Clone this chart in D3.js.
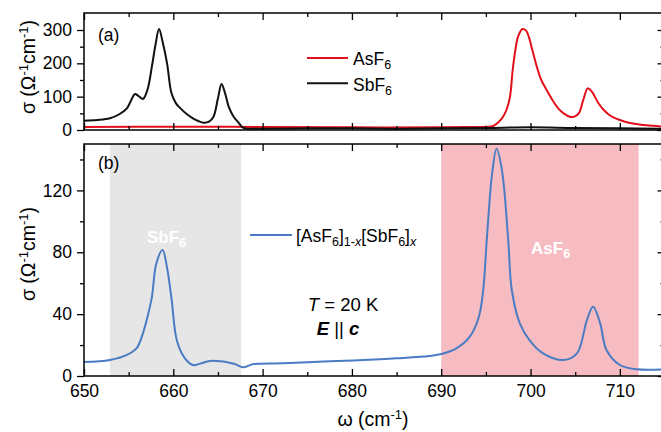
<!DOCTYPE html>
<html>
<head>
<meta charset="utf-8">
<script src="https://cdn.jsdelivr.net/npm/d3@7/dist/d3.min.js"></script>
<style>
  html, body { margin: 0; padding: 0; background: #fff; }
  svg { display: block; font-family: "Liberation Sans", Arial, Helvetica, sans-serif; }
</style>
</head>
<body>
<svg id="chart" width="661" height="432"></svg>
<script>
// ---- data ----------------------------------------------------------------
// wavenumbers (cm^-1) and conductivity (Ohm^-1 cm^-1)
const sbfWave = [650, 651.5, 652.9, 654, 654.8, 655.3, 655.7, 656.1, 656.6, 657.1, 657.6, 658.0, 658.4, 658.8, 659.3, 659.8, 660.3, 660.8, 661.5, 662.2, 662.8, 663.4, 664.0, 664.5, 665.0, 665.4, 665.8, 666.2, 666.7, 667.3, 667.8, 668.3, 670, 675, 680, 685, 690, 695, 700, 705, 710, 715];
const sbfSigma = [28, 30, 35, 48, 65, 90, 108, 102, 93, 120, 190, 255, 303, 265, 200, 110, 80, 65, 48, 35, 27, 22, 25, 40, 95, 138, 110, 70, 42, 22, 7, 4, 4, 5, 5, 4, 5, 6, 8, 6, 5, 4];

const asfWave = [650, 660, 670, 680, 690, 693, 695, 695.8, 696.8, 697.3, 697.7, 698.0, 698.3, 698.6, 699.1, 699.5, 699.8, 700.2, 700.7, 701.2, 701.8, 702.5, 703.1, 703.7, 704.4, 704.9, 705.4, 705.9, 706.4, 706.7, 707.0, 707.5, 708.2, 709, 710, 711, 711.9, 713, 715];
const asfSigma = [9, 10, 9, 8, 8, 9, 10, 12, 35, 60, 100, 180, 240, 280, 303, 298, 280, 240, 190, 150, 120, 88, 65, 50, 40, 40, 50, 90, 125, 120, 110, 85, 60, 42, 30, 22, 18, 14, 10];

const mixWave = [650, 652.9, 654.8, 655.9, 656.6, 657.1, 657.6, 658.1, 658.8, 659.3, 659.8, 660.4, 661.3, 662.2, 663.0, 664.1, 665.3, 666.3, 667.0, 667.8, 669.0, 672.3, 677.5, 681.3, 685, 688.7, 690, 691.7, 693.2, 694.2, 694.7, 695.1, 695.7, 696.2, 696.8, 697.5, 697.9, 698.8, 699.9, 701.4, 703.7, 705.2, 706.3, 707.0, 707.8, 708.5, 710, 711.9, 715];
const mixSigma = [9, 10.3, 13.6, 18, 27.6, 38, 51, 72.8, 81.4, 70, 50, 23, 11.4, 7.1, 8, 9.7, 9.5, 8.6, 7.5, 5.6, 7.7, 8.2, 9.5, 10.3, 11.4, 12.9, 14.2, 17.9, 25.4, 38, 55.6, 88, 131, 147, 133, 88, 55.6, 34, 23, 14.6, 10.3, 14.6, 36, 44.8, 34, 16.8, 7.1, 4.3, 4.3];

// shaded bands (cm^-1)
const sbfBand = [652.9, 667.6];
const asfBand = [690, 712.1];

// ticks
const xMajor = [650, 660, 670, 680, 690, 700, 710];
const xMinor = [655, 665, 675, 685, 695, 705, 715];
const yAMajor = [0, 100, 200, 300];
const yAMinor = [50, 150, 250];
const yBMajor = [0, 40, 80, 120];
const yBMinor = [20, 60, 100, 140];

// ---- layout --------------------------------------------------------------
const svg = d3.select("#chart");
const left = 84, right = 664.5;
const topA = 13, botA = 130;
const topB = 144, botB = 376;
const RED = "#e3101c", BLACK = "#111", BLUE = "#4a7cc4";

const x = d3.scaleLinear().domain([650, 715]).range([left, right]);
const yA = d3.scaleLinear().domain([0, 351]).range([botA, topA]);
const yB = d3.scaleLinear().domain([0, 150]).range([botB, topB]);

// shaded bands in panel (b)
svg.append("rect").attr("x", x(sbfBand[0])).attr("y", topB)
  .attr("width", x(sbfBand[1]) - x(sbfBand[0])).attr("height", botB - topB)
  .attr("fill", "#e6e6e6");
svg.append("rect").attr("x", x(asfBand[0])).attr("y", topB)
  .attr("width", x(asfBand[1]) - x(asfBand[0])).attr("height", botB - topB)
  .attr("fill", "#f6bcc2");

// clip paths for the curves
const defs = svg.append("defs");
defs.append("clipPath").attr("id", "clipA").append("rect")
  .attr("x", left).attr("y", topA).attr("width", right - left).attr("height", botA - topA);
defs.append("clipPath").attr("id", "clipB").append("rect")
  .attr("x", left).attr("y", topB).attr("width", right - left).attr("height", botB - topB);

function drawCurve(wave, sigma, ys, color, clip) {
  const pts = wave.map((w, i) => [w, sigma[i]]);
  const line = d3.line().x(d => x(d[0])).y(d => ys(d[1])).curve(d3.curveCatmullRom.alpha(0.5));
  svg.append("path").datum(pts).attr("d", line)
    .attr("fill", "none").attr("stroke", color).attr("stroke-width", 2)
    .attr("stroke-linejoin", "round").attr("clip-path", `url(#${clip})`);
}

drawCurve(asfWave, asfSigma, yA, RED, "clipA");
drawCurve(sbfWave, sbfSigma, yA, BLACK, "clipA");
drawCurve(mixWave, mixSigma, yB, BLUE, "clipB");

// ---- axes ----------------------------------------------------------------
const MAJ = 7, MIN = 4;
function axisGroup(axis, tx, ty) {
  const g = svg.append("g").attr("transform", `translate(${tx},${ty})`).call(axis);
  g.select(".domain").remove();
  g.selectAll("line").attr("stroke", "#000").attr("stroke-width", 1.3);
  g.selectAll("text").attr("fill", "#000").style("font-size", "17.5px").style("font-family", "Liberation Sans, Arial, sans-serif");
  return g;
}

function panelAxes(ys, top, bot, yMaj, yMin) {
  // x ticks inward, bottom and top
  axisGroup(d3.axisTop(x).tickValues(xMajor).tickSize(MAJ).tickFormat(""), 0, bot);
  axisGroup(d3.axisTop(x).tickValues(xMinor).tickSize(MIN).tickFormat(""), 0, bot);
  axisGroup(d3.axisBottom(x).tickValues(xMajor).tickSize(MAJ).tickFormat(""), 0, top);
  axisGroup(d3.axisBottom(x).tickValues(xMinor).tickSize(MIN).tickFormat(""), 0, top);
  // y ticks outward on the left, inward on the right
  axisGroup(d3.axisLeft(ys).tickValues(yMaj).tickSize(MAJ).tickPadding(5).tickFormat(d3.format("d")), left, 0);
  axisGroup(d3.axisLeft(ys).tickValues(yMin).tickSize(MIN).tickFormat(""), left, 0);
  axisGroup(d3.axisLeft(ys).tickValues(yMaj).tickSize(MAJ).tickFormat(""), right, 0);
  axisGroup(d3.axisLeft(ys).tickValues(yMin).tickSize(MIN).tickFormat(""), right, 0);
  // frame
  svg.append("rect").attr("x", left).attr("y", top).attr("width", right - left).attr("height", bot - top)
    .attr("fill", "none").attr("stroke", "#000").attr("stroke-width", 1.5);
}

panelAxes(yA, topA, botA, yAMajor, yAMinor);
panelAxes(yB, topB, botB, yBMajor, yBMinor);

// x tick labels below panel (b)
const xl = axisGroup(d3.axisBottom(x).tickValues(xMajor).tickSize(0).tickPadding(9).tickFormat(d3.format("d")), 0, botB);
xl.selectAll("line").remove();

// ---- text ----------------------------------------------------------------
function sigmaTitle(cy) {
  const t = svg.append("text")
    .attr("transform", `translate(35,${cy}) rotate(-90)`)
    .attr("text-anchor", "middle").style("font-size", "19.5px").attr("fill", "#000");
  t.append("tspan").text("σ (Ω");
  t.append("tspan").attr("baseline-shift", "super").style("font-size", "13px").text("-1");
  t.append("tspan").text("cm");
  t.append("tspan").attr("baseline-shift", "super").style("font-size", "13px").text("-1");
  t.append("tspan").text(")");
}
sigmaTitle(67);
sigmaTitle(254);

const xt = svg.append("text").attr("x", 373).attr("y", 426).attr("text-anchor", "middle")
  .style("font-size", "19.5px").attr("fill", "#000");
xt.append("tspan").text("ω (cm");
xt.append("tspan").attr("baseline-shift", "super").style("font-size", "13px").text("-1");
xt.append("tspan").text(")");

svg.append("text").attr("x", 98).attr("y", 41).style("font-size", "17.5px").text("(a)");
svg.append("text").attr("x", 98).attr("y", 169).style("font-size", "17.5px").text("(b)");

// rich-text helper for chemical formulas with subscripts
function chem(sel, parts) {
  parts.forEach(p => {
    const ts = sel.append("tspan").text(p.t);
    if (p.sub) ts.attr("baseline-shift", "-30%").style("font-size", "12.5px");
    if (p.it) ts.style("font-style", "italic");
  });
}

// legend, panel (a)
svg.append("line").attr("x1", 307).attr("x2", 348).attr("y1", yA(216)).attr("y2", yA(216))
  .attr("stroke", RED).attr("stroke-width", 2);
chem(svg.append("text").attr("x", 353).attr("y", 65).style("font-size", "17.5px"),
  [{t: "AsF"}, {t: "6", sub: true}]);
svg.append("line").attr("x1", 307).attr("x2", 348).attr("y1", yA(140)).attr("y2", yA(140))
  .attr("stroke", BLACK).attr("stroke-width", 2);
chem(svg.append("text").attr("x", 353).attr("y", 91).style("font-size", "17.5px"),
  [{t: "SbF"}, {t: "6", sub: true}]);

// legend, panel (b)
svg.append("line").attr("x1", 250).attr("x2", 292).attr("y1", 235).attr("y2", 235)
  .attr("stroke", BLUE).attr("stroke-width", 2);
chem(svg.append("text").attr("x", 296).attr("y", 242).style("font-size", "17.5px"),
  [{t: "[AsF"}, {t: "6", sub: true}, {t: "]"}, {t: "1-", sub: true}, {t: "x", sub: true, it: true},
   {t: "[SbF"}, {t: "6", sub: true}, {t: "]"}, {t: "x", sub: true, it: true}]);

// band labels
chem(svg.append("text").attr("x", 147).attr("y", 243).attr("fill", "#fff")
  .style("font-size", "17px").style("font-weight", "bold"), [{t: "SbF"}, {t: "6", sub: true}]);
chem(svg.append("text").attr("x", 531).attr("y", 254).attr("fill", "#fff")
  .style("font-size", "17px").style("font-weight", "bold"), [{t: "AsF"}, {t: "6", sub: true}]);

// conditions
const tT = svg.append("text").attr("x", 343).attr("y", 311).attr("text-anchor", "middle").style("font-size", "18.5px");
tT.append("tspan").style("font-style", "italic").text("T");
tT.append("tspan").text(" = 20 K");
const tE = svg.append("text").attr("x", 338).attr("y", 335).attr("text-anchor", "middle")
  .style("font-size", "18.5px").style("font-weight", "bold").style("font-style", "italic");
tE.append("tspan").text("E");
tE.append("tspan").style("font-weight", "normal").style("font-style", "normal").text(" || ");
tE.append("tspan").text("c");
</script>
</body>
</html>
